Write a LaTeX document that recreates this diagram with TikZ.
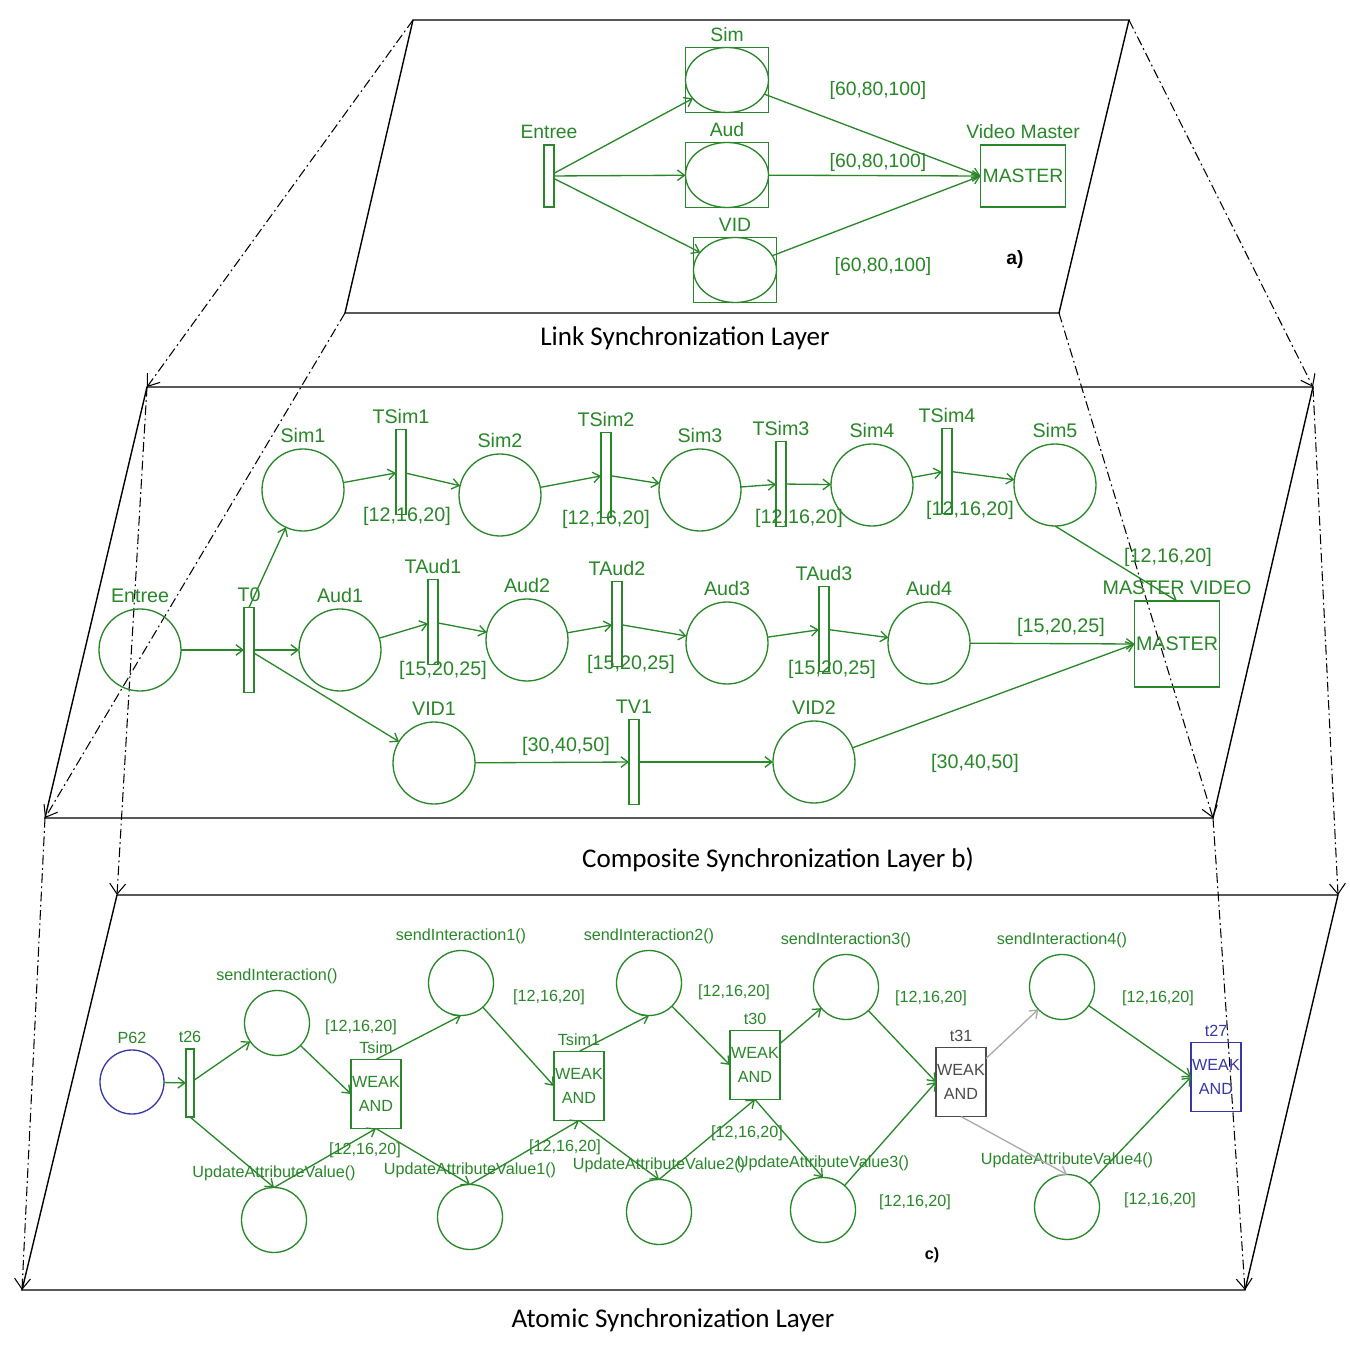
\documentclass[tikz,border=0pt]{standalone}
\usepackage{fontspec}
\setmainfont{Liberation Sans}
\newfontfamily\calfont{Carlito}
\usetikzlibrary{arrows.meta,shapes.geometric}
\definecolor{pngreen}{RGB}{40,135,40}
\definecolor{pnblue}{RGB}{55,55,165}
\definecolor{pndark}{RGB}{75,75,75}
\definecolor{pnlight}{RGB}{170,170,170}
\newlength{\pxu}\setlength{\pxu}{0.02cm}
\newcommand{\fa}{\fontsize{11}{12}\selectfont}
\newcommand{\fb}{\fontsize{11.2}{12}\selectfont}
\newcommand{\fc}{\fontsize{9.2}{14}\selectfont}

\begin{document}
\begin{tikzpicture}[x=0.02cm, y=-0.02cm, >={Straight Barb[length=4pt,width=6pt]},
  plane/.style={draw=black, line width=0.8pt},
  proj/.style={draw=black, line width=0.6pt, dash pattern=on 5.5pt off 2pt on 1pt off 2pt,
    -{Straight Barb[length=6pt,width=9pt]}},
  pnarc/.style={draw=pngreen, line width=0.75pt, ->},
  pnplace/.style={circle, draw=pngreen, line width=0.75pt, inner sep=0pt, outer sep=0pt, minimum size=#1\pxu},
  pnplace/.default=82,
  pntrans/.style={rectangle, draw=pngreen, fill=white, line width=0.75pt, inner sep=0pt, outer sep=0pt,
    minimum width=10\pxu, minimum height=#1\pxu},
  pnbox/.style={rectangle, draw=pngreen, line width=0.75pt, inner sep=0pt, outer sep=0pt},
  oval/.style={ellipse, draw=pngreen, line width=0.75pt, inner sep=0pt, outer sep=0pt,
    minimum width=83\pxu, minimum height=65\pxu},
  wand/.style={pnbox, minimum width=50\pxu, minimum height=69\pxu, align=center, text=pngreen, font=\fc},
  ltitle/.style={font=\calfont\fontsize{15.4}{17}\selectfont, text=black}]
\fill[white] (0,0) rectangle (1350,1348);
\useasboundingbox (0,0) rectangle (1350,1348);
%Ebenen
\coordinate (a1) at (413,20); \coordinate (a2) at (1129,20);
\coordinate (a3) at (1059,313); \coordinate (a4) at (345,313);
\coordinate (b1) at (147,387); \coordinate (b2) at (1313,387);
\coordinate (b3) at (1213,818); \coordinate (b4) at (45,818);
\coordinate (c1) at (117,895); \coordinate (c2) at (1338,895);
\coordinate (c3) at (1245,1290); \coordinate (c4) at (22,1290);
\draw[plane] (a1) -- (a2) -- (a3) -- (a4) -- cycle;
\draw[plane] (b1) -- (b2) -- (b3) -- (b4) -- cycle;
\draw[plane] (c1) -- (c2) -- (c3) -- (c4) -- cycle;
\foreach \i in {1,...,4} {
  \draw[proj] (a\i) -- (b\i);
  \draw[proj] (b\i) -- (c\i);
}
\node[ltitle] (tA) at (685,338) {Link Synchronization Layer};
\node[ltitle] (tB) at (778,860) {Composite Synchronization Layer b)};
\node[ltitle] (tC) at (673,1320) {Atomic Synchronization Layer};

%Ebene a
\begin{scope}[font=\fa, text=pngreen]
\node[pntrans=62, label=above:Entree] (entreeA) at (549,176) {};
\node[oval, label=above:Sim] (simA) at (727,80) {};
\node[oval, label=above:Aud] (audA) at (727,175) {};
\node[oval, label=above:VID] (vidA) at (735,270) {};
\node[pnbox, minimum width=85\pxu, minimum height=62\pxu, label=above:Video Master] (masterA) at (1023,176) {MASTER};
\foreach \n in {simA,audA,vidA} {
  \draw[draw=pngreen, line width=0.75pt] (\n.west |- \n.north) rectangle (\n.east |- \n.south);
  \draw[pnarc] (entreeA) -- (\n);
  \draw[pnarc] (\n) -- (masterA.west);
}
\node (wA1) at (878,91) {[60,80,100]};
\node (wA2) at (878,163) {[60,80,100]};
\node (wA3) at (883,267) {[60,80,100]};
\end{scope}
\node[font=\fa\bfseries] (capA) at (1015,260) {a)};

%Ebene b
\begin{scope}[font=\fb, text=pngreen]
\node[pnplace, label=above:Entree] (entreeB) at (140,650) {};
\node[pntrans=85, label=above:T0] (t0) at (249,650) {};
\foreach \n/\x/\y/\l in {sim1/303/490/Sim1, sim2/500/495/Sim2, sim3/700/490/Sim3, sim4/872/485/Sim4,
  sim5/1055/485/Sim5, aud1/340/650/Aud1, aud2/527/640/Aud2, aud3/727/643/Aud3, aud4/929/643/Aud4,
  vid1/434/763/VID1, vid2/814/762/VID2}
  \node[pnplace, label=above:\l] (\n) at (\x,\y) {};
\foreach \n/\x/\y/\l in {tsim1/401/472/TSim1, tsim2/606/475/TSim2, tsim3/781/484/TSim3, tsim4/947/471/TSim4,
  taud1/433/622/TAud1, taud2/617/624/TAud2, taud3/824/629/TAud3, tv1/634/762/TV1}
  \node[pntrans=85, label=above:\l] (\n) at (\x,\y) {};
\node[pnbox, minimum width=85\pxu, minimum height=86\pxu, label=above:MASTER VIDEO] (masterB) at (1177,644) {MASTER};
\foreach \a/\b in {entreeB/t0, t0/aud1, t0/vid1, sim1/tsim1, tsim1/sim2, sim2/tsim2, tsim2/sim3,
  sim3/tsim3, tsim3/sim4, sim4/tsim4, tsim4/sim5, aud1/taud1, taud1/aud2, aud2/taud2, taud2/aud3,
  aud3/taud3, taud3/aud4, vid1/tv1, tv1/vid2}
  \draw[pnarc] (\a) -- (\b);
\draw[pnarc] (t0.north) -- (sim1);
\draw[pnarc] (sim5.south) -- (masterB.north);
\draw[pnarc] (aud4) -- (masterB.west);
\draw[pnarc] (vid2) -- (masterB.west);
\node (wB1) at (407,516) {[12,16,20]};
\node (wB2) at (606,519) {[12,16,20]};
\node (wB3) at (799,518) {[12,16,20]};
\node (wB4) at (970,510) {[12,16,20]};
\node (wB5) at (1168,557) {[12,16,20]};
\node (wB6) at (443,670) {[15,20,25]};
\node (wB7) at (631,664) {[15,20,25]};
\node (wB8) at (832,669) {[15,20,25]};
\node (wB9) at (1061,627) {[15,20,25]};
\node (wB10) at (566,746) {[30,40,50]};
\node (wB11) at (975,763) {[30,40,50]};
\end{scope}

%Ebene c
\begin{scope}[font=\fc, text=pngreen]
\node[pnplace=64, draw=pnblue, label=above:P62] (p62) at (132,1082) {};
\node[pntrans=68, minimum width=8\pxu, label=above:t26] (t26) at (190,1083) {};
\foreach \n/\x/\y/\l in {si0/277/1023/sendInteraction(), si1/461/983/sendInteraction1(),
  si2/649/983/sendInteraction2(), si3/846/987/sendInteraction3(), si4/1062/987/sendInteraction4(),
  ua0/274/1220/UpdateAttributeValue(), ua1/470/1217/UpdateAttributeValue1(),
  ua2/659/1212/UpdateAttributeValue2(), ua3/823/1210/UpdateAttributeValue3(),
  ua4/1067/1207/UpdateAttributeValue4()}
  \node[pnplace=65, label=above:\l] (\n) at (\x,\y) {};
\node[wand, label=above:Tsim] (wsim) at (376,1094) {WEAK\\AND};
\node[wand, label=above:Tsim1] (wsim1) at (579,1086) {WEAK\\AND};
\node[wand, label=above:t30] (t30) at (755,1065) {WEAK\\AND};
\node[wand, draw=pndark, text=pndark, label={[text=pndark]above:t31}] (t31) at (961,1082) {WEAK\\AND};
\node[wand, draw=pnblue, text=pnblue, label={[text=pnblue]above:t27}] (t27) at (1216,1077) {WEAK\\AND};
\draw[pnarc] (p62) -- (t26);
\draw[pnarc] (t26) -- (si0);
\draw[pnarc] (t26.south) -- (ua0.north);
\draw[pnarc] (si0) -- (wsim.west);
\draw[pnarc] (ua0.north) -- (wsim.south);
\draw[pnarc] (wsim.north) -- (si1.south);
\draw[pnarc] (wsim.south) -- (ua1.north);
\draw[pnarc] (si1) -- (wsim1.west);
\draw[pnarc] (ua1.north) -- (wsim1.south);
\draw[pnarc] (wsim1.north) -- (si2.south);
\draw[pnarc] (wsim1.south) -- (ua2.north);
\draw[pnarc] (si2) -- (t30.west);
\draw[pnarc] (ua2.north) -- (t30.south);
\draw[pnarc] (t30) -- (si3);
\draw[pnarc] (t30.south) -- (ua3.north);
\draw[pnarc] (si3) -- (t31.west);
\draw[pnarc] (ua3) -- (t31.west);
\draw[pnarc, draw=pnlight] (t31) -- (si4);
\draw[pnarc, draw=pnlight] (t31.south) -- (ua4.north);
\draw[pnarc] (si4) -- (t27.west);
\draw[pnarc] (ua4) -- (t27.west);
\node (wC1) at (361,1027) {[12,16,20]};
\node (wC2) at (365,1150) {[12,16,20]};
\node (wC3) at (549,997) {[12,16,20]};
\node (wC4) at (565,1147) {[12,16,20]};
\node (wC5) at (734,992) {[12,16,20]};
\node (wC6) at (747,1133) {[12,16,20]};
\node (wC7) at (931,998) {[12,16,20]};
\node (wC8) at (915,1202) {[12,16,20]};
\node (wC9) at (1158,998) {[12,16,20]};
\node (wC10) at (1160,1200) {[12,16,20]};
\end{scope}
\node[font=\fc\bfseries] (capC) at (932,1255) {c)};
\end{tikzpicture}
\end{document}
